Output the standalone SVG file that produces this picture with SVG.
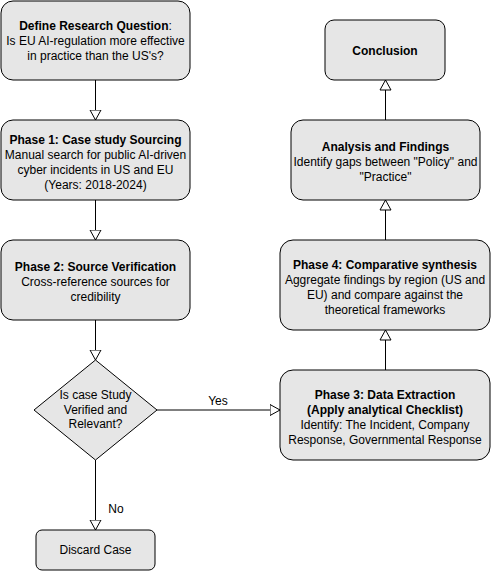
<svg xmlns="http://www.w3.org/2000/svg" width="491" height="571" viewBox="0 0 491 571">
<style>
.box{fill:#e6e6e6;stroke:#000;stroke-width:1}
text{font-family:"Liberation Sans",Arial,sans-serif;font-size:12px;fill:#000;text-anchor:middle}
.b{font-weight:bold}
.conn line{stroke:#000;stroke-width:1;fill:none;marker-end:url(#arr)}
</style>
<defs>
<marker id="arr" markerUnits="userSpaceOnUse" markerWidth="12" markerHeight="13" refX="10.5" refY="6" orient="auto" viewBox="0 0 12 12">
<path d="M0.5,0.5 L10.5,6 L0.5,11.5 Z" fill="#fff" stroke="#000" stroke-width="1"/>
</marker>
</defs>
<g id="connectors" class="conn">
<line x1="95.5" y1="80" x2="95.5" y2="120"/>
<line x1="95.5" y1="200" x2="95.5" y2="240"/>
<line x1="95.5" y1="320" x2="95.5" y2="360"/>
<line x1="157" y1="410" x2="280" y2="410"/>
<line x1="95.5" y1="460" x2="95.5" y2="530"/>
<line x1="385.5" y1="370" x2="385.5" y2="330"/>
<line x1="385.5" y1="240" x2="385.5" y2="200"/>
<line x1="385.5" y1="120" x2="385.5" y2="80"/>
<text x="218" y="405">Yes</text>
<text x="116" y="513">No</text>
</g>
<g id="define">
<rect class="box" x="1" y="1" width="189" height="79" rx="12"/>
<text x="95.5" y="30"><tspan class="b">Define Research Question</tspan>:</text>
<text x="95.5" y="45">Is EU AI-regulation more effective</text>
<text x="95.5" y="60">in practice than the US's?</text>
</g>
<g id="phase1">
<rect class="box" x="1" y="120" width="189" height="80" rx="12"/>
<text class="b" x="95.5" y="143.5">Phase 1: Case study Sourcing</text>
<text x="95.5" y="158.5">Manual search for public AI-driven</text>
<text x="95.5" y="173.5">cyber incidents in US and EU</text>
<text x="95.5" y="188.5">(Years: 2018-2024)</text>
</g>
<g id="phase2">
<rect class="box" x="1" y="240" width="189" height="80" rx="12"/>
<text class="b" x="95.5" y="270.5">Phase 2: Source Verification</text>
<text x="95.5" y="285.5">Cross-reference sources for</text>
<text x="95.5" y="300.5">credibility</text>
</g>
<g id="decision">
<polygon class="box" points="95.5,360 157,410 95.5,460 34,410"/>
<text x="95.5" y="399">Is case Study</text>
<text x="95.5" y="413.5">Verified and</text>
<text x="95.5" y="428">Relevant?</text>
</g>
<g id="discard">
<rect class="box" x="36" y="530" width="119" height="40" rx="6"/>
<text x="95.5" y="554">Discard Case</text>
</g>
<g id="phase3">
<rect class="box" x="280" y="370" width="210" height="90" rx="13"/>
<text class="b" x="385" y="398.5">Phase 3: Data Extraction</text>
<text class="b" x="385" y="413.5">(Apply analytical Checklist)</text>
<text x="385" y="428.5">Identify: The Incident, Company</text>
<text x="385" y="443.5">Response, Governmental Response</text>
</g>
<g id="phase4">
<rect class="box" x="280" y="240" width="210" height="90" rx="13"/>
<text class="b" x="385" y="268.5">Phase 4: Comparative synthesis</text>
<text x="385" y="283.5">Aggregate findings by region (US and</text>
<text x="385" y="298.5">EU) and compare against the</text>
<text x="385" y="313.5">theoretical frameworks</text>
</g>
<g id="analysis">
<rect class="box" x="291" y="120" width="189" height="80" rx="12"/>
<text class="b" x="385.5" y="151">Analysis and Findings</text>
<text x="385.5" y="166">Identify gaps between "Policy" and</text>
<text x="385.5" y="181">"Practice"</text>
</g>
<g id="conclusion">
<rect class="box" x="325" y="20" width="120" height="60" rx="9"/>
<text class="b" x="385" y="54.5">Conclusion</text>
</g>
</svg>
